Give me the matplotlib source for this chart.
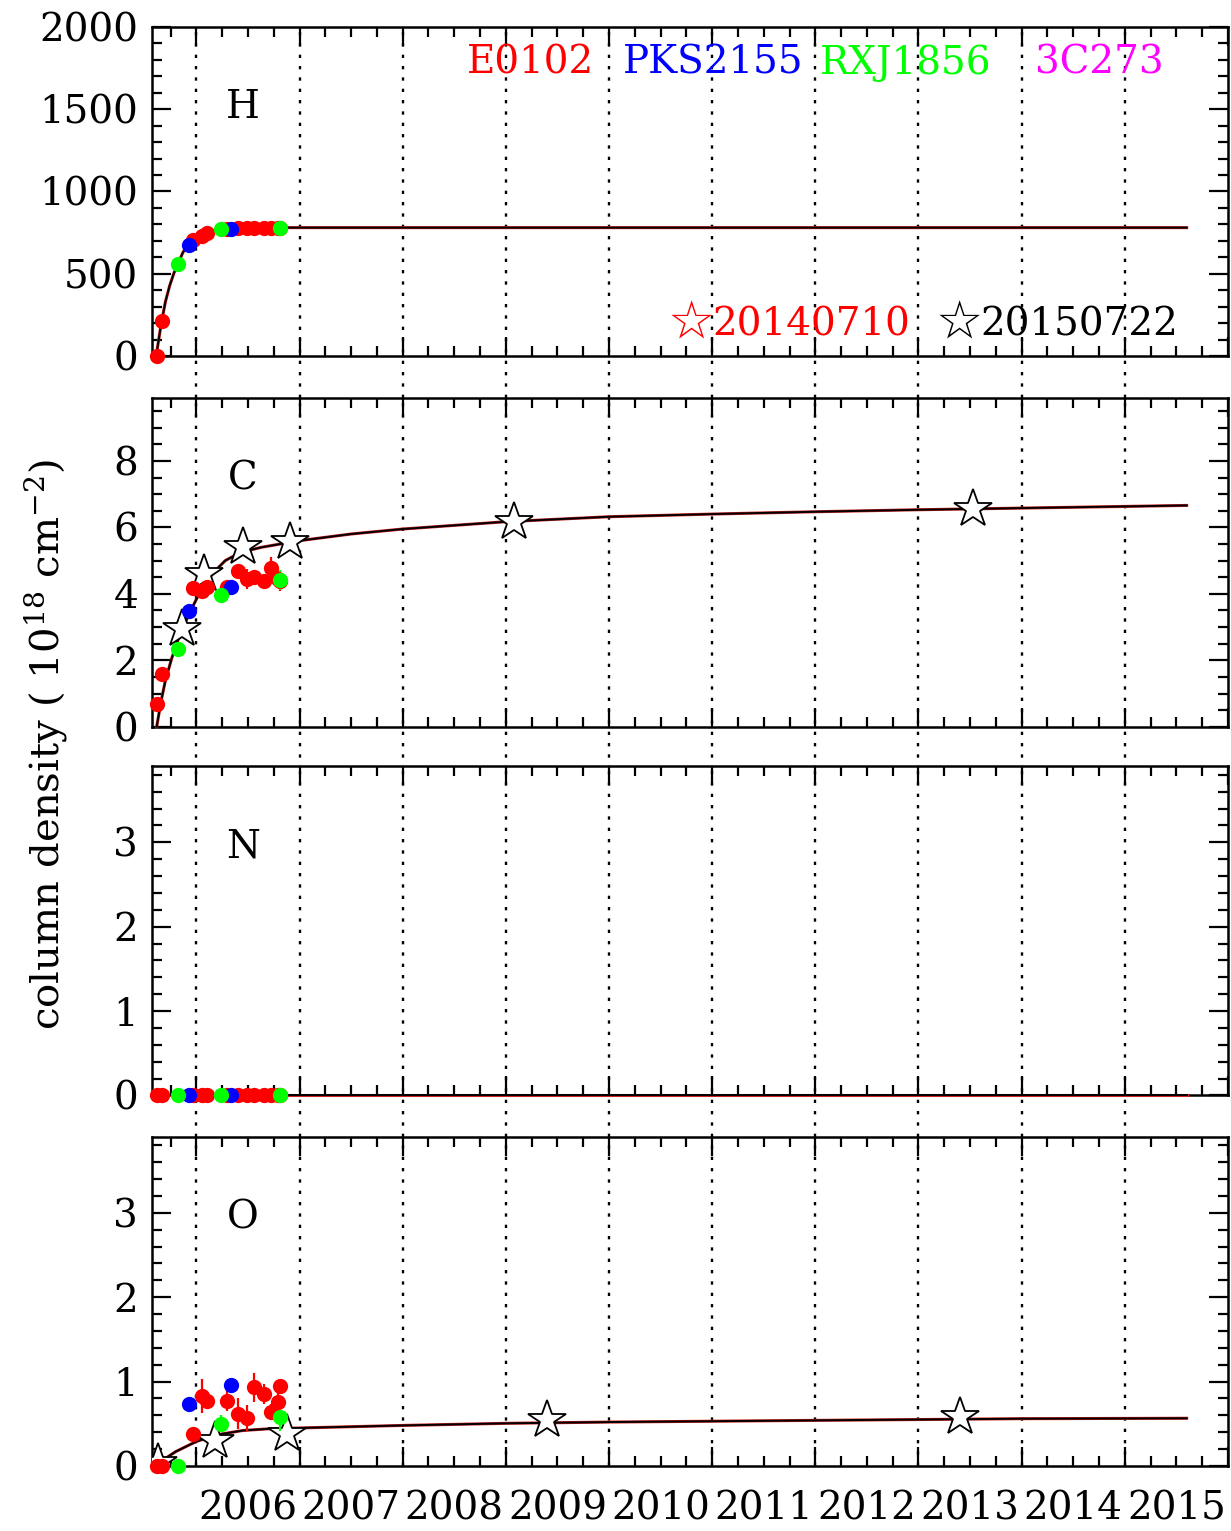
import numpy as np
import matplotlib
matplotlib.use("Agg")
import matplotlib.pyplot as plt
from matplotlib.ticker import MultipleLocator

plt.rcParams['font.family'] = ['DejaVu Serif', 'DejaVu Sans']
plt.rcParams['mathtext.fontset'] = 'dejavuserif'

# observation epochs (decimal year) per calibration source
E0102_T = [2005.62, 2005.67, 2005.97, 2006.05, 2006.10, 2006.30, 2006.40,
           2006.49, 2006.56, 2006.66, 2006.72, 2006.79, 2006.81]
PKS2155_T = [2005.93, 2006.34]
RXJ1856_T = [2005.82, 2006.235, 2006.81]

# column densities per element
E0102_H = [0, 215, 707, 728, 748, 773, 777, 777, 777, 778, 778, 778, 778]
E0102_C = [0.67, 1.60, 4.18, 4.10, 4.20, 4.20, 4.68, 4.45, 4.50, 4.40, 4.77, 4.45, 4.40]
E0102_C_ERR = [0, 0, 0.1, 0.1, 0.15, 0.15, 0.2, 0.3, 0.2, 0.15, 0.35, 0.25, 0.3]
E0102_N = [0] * 13
E0102_O = [0, 0, 0.38, 0.83, 0.77, 0.77, 0.62, 0.57, 0.93, 0.85, 0.64, 0.76, 0.95]
E0102_O_ERR = [0, 0, 0.02, 0.2, 0.1, 0.12, 0.18, 0.15, 0.17, 0.12, 0.1, 0.12, 0.05]

PKS2155_H = [675, 773]
PKS2155_C = [3.47, 4.20]
PKS2155_N = [0, 0]
PKS2155_O = [0.74, 0.96]

RXJ1856_H = [559, 769, 780]
RXJ1856_C = [2.35, 3.97, 4.42]
RXJ1856_C_ERR = [0, 0, 0.3]
RXJ1856_N = [0, 0, 0]
RXJ1856_O = [0.0, 0.50, 0.58]
RXJ1856_O_ERR = [0, 0.1, 0.17]

# open stars
STAR_C_T = [2005.857, 2006.076, 2006.451, 2006.904, 2009.078, 2013.53]
STAR_C = [2.95, 4.6, 5.4, 5.57, 6.17, 6.56]
STAR_O_T = [2005.63, 2006.18, 2006.875, 2009.40, 2013.40]
STAR_O = [0.03, 0.30, 0.38, 0.54, 0.58]

# model curves
H_MODEL_T = [2005.61, 2005.66, 2005.70, 2005.74, 2005.78, 2005.82, 2005.87, 2005.92,
             2005.97, 2006.02, 2006.10, 2006.20, 2006.30, 2006.45, 2006.65, 2006.90, 2015.6]
H_MODEL = [0, 200, 330, 425, 500, 560, 630, 677, 705, 728, 750, 765, 772, 776, 778, 780, 780]

C_MODEL_T = [2005.615, 2005.66, 2005.70, 2005.76, 2005.82, 2005.88, 2005.93, 2006.01,
             2006.07, 2006.13, 2006.20, 2006.28, 2006.43, 2006.63, 2007.0, 2007.5, 2008.0,
             2009.0, 2010.0, 2011.0, 2012.0, 2013.0, 2014.0, 2015.0, 2015.6]
C_MODEL = [0, 0.8, 1.4, 2.05, 2.6, 3.05, 3.4, 3.9, 4.22, 4.5, 4.75, 5.0, 5.25, 5.4, 5.6,
           5.8, 5.95, 6.17, 6.32, 6.40, 6.47, 6.53, 6.58, 6.63, 6.66]

N_MODEL_T = [2005.62, 2015.6]
N_MODEL = [0, 0]

O_MODEL_T = [2005.64, 2005.70, 2005.80, 2005.90, 2006.00, 2006.10, 2006.25, 2006.45,
             2006.70, 2007.0, 2008.0, 2009.0, 2010.0, 2011.0, 2012.0, 2013.0, 2014.0, 2015.6]
O_MODEL = [0.04, 0.09, 0.17, 0.23, 0.29, 0.33, 0.38, 0.42, 0.44, 0.45, 0.48, 0.505,
           0.52, 0.53, 0.54, 0.55, 0.56, 0.565]

YEARS = list(range(2006, 2016))
ELEMENTS = ['H', 'C', 'N', 'O']
SOURCES = ['E0102', 'PKS2155', 'RXJ1856', '3C273']
SOURCE_COLORS = ['#ff0000', '#0000ff', '#00ff00', '#ff00ff']
SOURCE_X = [0.293, 0.438, 0.621, 0.821]
STAR_LABELS = ['20140710', '20150722']
STAR_COLORS = ['#ff0000', 'black']
STAR_X = [0.501, 0.750]

RED, BLUE, GREEN = '#ff0000', '#0000ff', '#00ff00'
FS = 28


def draw_panel(ax, ymax, major, minor, model_t, model, red, blue, green,
               red_err=None, green_err=None, star_t=None, star=None):
    ax.set_xlim(2005.57, 2016.0)
    ax.set_ylim(0, ymax)
    ax.xaxis.set_major_locator(MultipleLocator(1))
    ax.xaxis.set_minor_locator(MultipleLocator(0.25))
    ax.yaxis.set_major_locator(MultipleLocator(major))
    ax.yaxis.set_minor_locator(MultipleLocator(minor))
    ax.tick_params(which='both', direction='in', top=True, right=True, width=1.6,
                   labelsize=FS, pad=10)
    ax.tick_params(which='major', length=14)
    ax.tick_params(which='minor', length=7)
    ax.set_xticklabels([])
    for s in ax.spines.values():
        s.set_linewidth(1.8)

    ax.plot(model_t, model, color='#cc2222', lw=2.2, zorder=3, clip_on=False)
    ax.plot(model_t, model, color='black', lw=1.4, zorder=3.1, clip_on=False)

    if star_t is not None:
        ax.plot(star_t, star, '*', ms=29, mfc='white', mec='black', mew=1.3,
                zorder=3.5)

    for t, v, c, e in [(E0102_T, red, RED, red_err), (PKS2155_T, blue, BLUE, None),
                       (RXJ1856_T, green, GREEN, green_err)]:
        if e is not None:
            ax.errorbar(t, v, yerr=e, fmt='none', ecolor=c, elinewidth=1.6,
                        capsize=0, zorder=4, clip_on=False)
        ax.plot(t, v, 'o', color=c, ms=11, mec='none', zorder=5, clip_on=False)


fig = plt.figure(figsize=(12.31, 15.31), dpi=100)
left, width, height = 0.1235, 0.874, 0.2149
bottoms = [0.7675, 0.5253, 0.2845, 0.0425]
axes = [fig.add_axes([left, b, width, height]) for b in bottoms]

draw_panel(axes[0], 2000, 500, 100, H_MODEL_T, H_MODEL, E0102_H, PKS2155_H, RXJ1856_H)
draw_panel(axes[1], 9.9, 2, 0.5, C_MODEL_T, C_MODEL, E0102_C, PKS2155_C, RXJ1856_C,
           E0102_C_ERR, RXJ1856_C_ERR, STAR_C_T, STAR_C)
draw_panel(axes[2], 3.9, 1, 0.2, N_MODEL_T, N_MODEL, E0102_N, PKS2155_N, RXJ1856_N)
draw_panel(axes[3], 3.9, 1, 0.2, O_MODEL_T, O_MODEL, E0102_O, PKS2155_O, RXJ1856_O,
           E0102_O_ERR, RXJ1856_O_ERR, STAR_O_T, STAR_O)

# dotted year lines, running through the gaps between panels
gap = (bottoms[0] - bottoms[1] - height) / height
for i, ax in enumerate(axes):
    ymin = 0 if i == len(axes) - 1 else -gap
    for yr in YEARS:
        ax.axvline(yr, ymin=ymin, ymax=1, color='black', lw=1.7,
                   ls=(0, (1.4, 3.4)), clip_on=False, zorder=1)
    ax.text(0.0846, 0.754, ELEMENTS[i], transform=ax.transAxes, fontsize=FS,
            ha='center', va='center')

# year labels sit between the year lines
for yr in YEARS:
    axes[-1].text(yr + 0.5, -0.075, str(yr), transform=axes[-1].get_xaxis_transform(),
                  ha='center', va='top', fontsize=FS)

for name, col, x in zip(SOURCES, SOURCE_COLORS, SOURCE_X):
    axes[0].text(x, 0.89, name, color=col, transform=axes[0].transAxes,
                 fontsize=28, ha='left', va='center')
for lab, col, x in zip(STAR_LABELS, STAR_COLORS, STAR_X):
    axes[0].text(x, 0.10, '\u2606', color=col, transform=axes[0].transAxes,
                 fontsize=38, ha='center', va='center', family=['DejaVu Sans'])
    axes[0].text(x + 0.0195, 0.094, lab, color=col, transform=axes[0].transAxes,
                 fontsize=28, ha='left', va='center')

fig.text(0.0366, 0.5134, r'column density ( 10$^{18}$ cm$^{-2}$)', rotation=90,
         fontsize=29, ha='center', va='center')

fig.savefig('out.png', dpi=100)
